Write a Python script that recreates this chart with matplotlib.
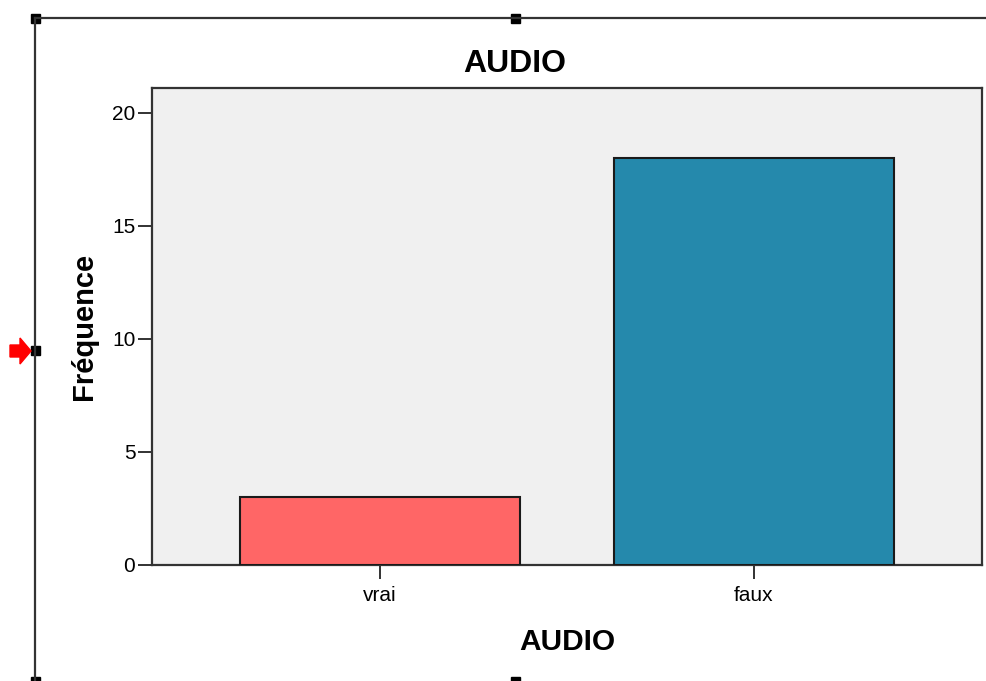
import numpy as np
import matplotlib.pyplot as plt
from matplotlib.lines import Line2D
from matplotlib.patches import Rectangle, Polygon

plt.close('all')

# data
categories = ['vrai', 'faux']
counts = [3, 18]
barColors = ['#FF6666', '#2589AC']
yTicks = [0, 5, 10, 15, 20]

W, H = 986, 681
fig = plt.figure(figsize=(W/100, H/100), dpi=100)
plt.rcParams['font.family'] = ['Liberation Sans', 'DejaVu Sans']

def fx(x):
    return x/W

def fy(y):
    return 1 - y/H

# plot area
ax = fig.add_axes([fx(152), fy(565), fx(982) - fx(152), fy(88) - fy(565)])
ax.set_facecolor('#F0F0F0')
xPos = np.arange(len(categories))
ax.bar(xPos, counts, width=0.75, color=barColors, edgecolor='#1a1a1a', linewidth=1.5, zorder=3)
ax.set_xlim(-0.61, 1.61)
ax.set_ylim(0, 21.1)
ax.set_xticks(xPos)
ax.set_xticklabels(categories)
ax.set_yticks(yTicks)
ax.tick_params(direction='out', length=10, width=1.3, color='#222222', labelsize=15)
ax.tick_params(axis='y', pad=2)
ax.tick_params(axis='x', pad=5)
for s in ax.spines.values():
    s.set_color('#333333')
    s.set_linewidth(1.6)
# title sits centred on the whole chart frame, not the plot area
fig.text(fx(515), fy(63.5), 'AUDIO', fontsize=23, fontweight='bold', ha='center', va='center')
ax.set_xlabel('AUDIO', fontsize=21.5, fontweight='bold', labelpad=17)
ax.set_ylabel('Fréquence', fontsize=21, fontweight='bold', labelpad=10)

# selection frame around the chart
frameColor = '#333333'
fig.add_artist(Line2D([fx(35), fx(W)], [fy(18), fy(18)], color=frameColor, lw=1.6))
fig.add_artist(Line2D([fx(35), fx(35)], [fy(18), fy(H)], color=frameColor, lw=1.6))
for hx, hy in [(35, 18), (515, 18), (35, 351), (35, 681), (515, 681)]:
    fig.add_artist(Rectangle((fx(hx - 4.5), fy(hy + 4.5)), fx(9), 9/H, color='black', transform=fig.transFigure))

# red marker arrow
arrow = [(10, 345), (20, 345), (20, 338), (31, 351), (20, 364), (20, 357), (10, 357)]
fig.add_artist(Polygon([(fx(a), fy(b)) for a, b in arrow], closed=True, color='#FF0000', transform=fig.transFigure))

fig.savefig('out.png', dpi=100)
